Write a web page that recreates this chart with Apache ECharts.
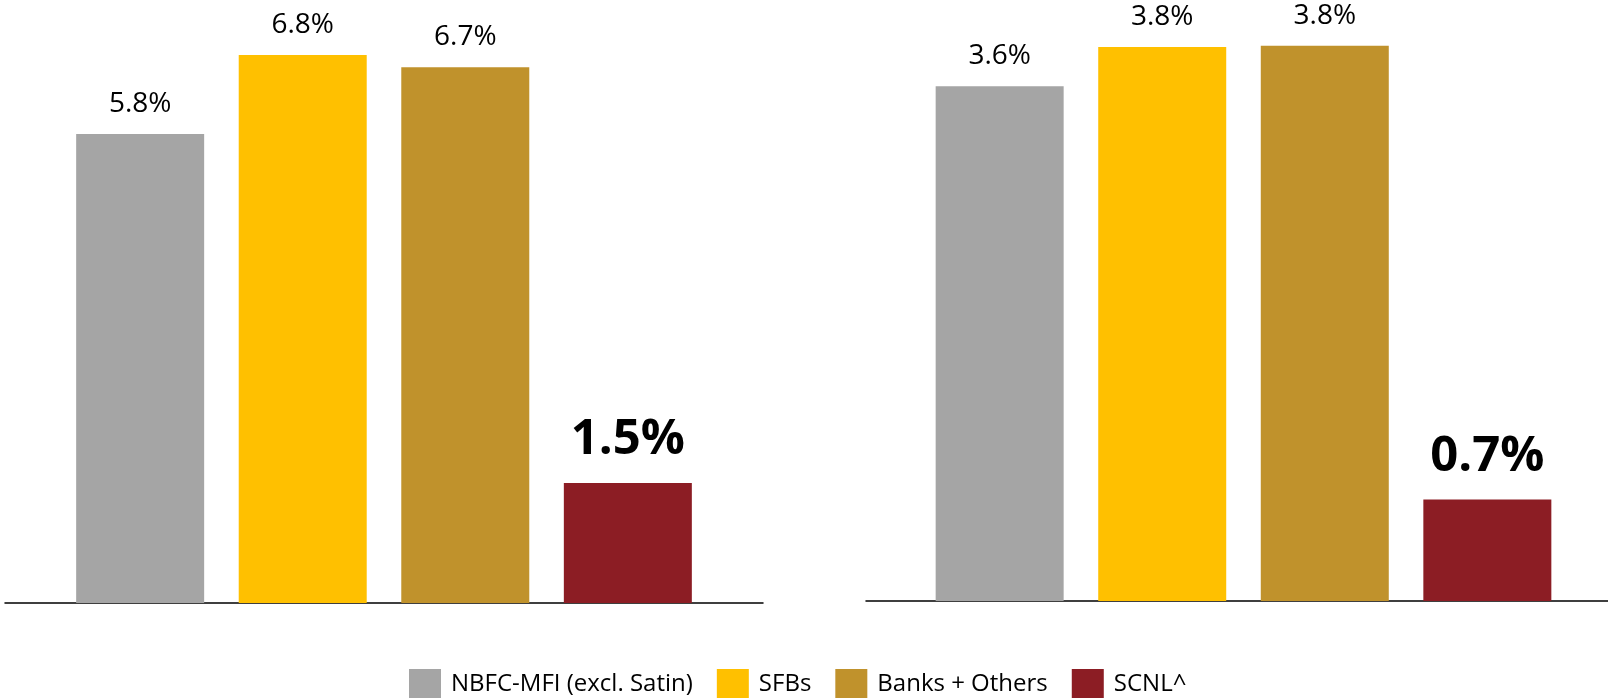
<!DOCTYPE html>
<html>
<head>
<meta charset="utf-8">
<script src="https://cdn.jsdelivr.net/npm/echarts@6/dist/echarts.min.js"></script>
<style>
html,body{margin:0;padding:0;background:#fff;}
#chart{width:1608px;height:698px;}
</style>
</head>
<body>
<div id="chart"></div>
<script>
const seriesNames = ['NBFC-MFI (excl. Satin)', 'SFBs', 'Banks + Others', 'SCNL^'];
const seriesColors = ['#A5A5A5', '#FFC000', '#C0922C', '#8C1D24'];
const leftValues = [5.82, 6.80, 6.65, 1.49];
const leftLabels = ['5.8%', '6.8%', '6.7%', '1.5%'];
const rightValues = [3.55, 3.82, 3.83, 0.70];
const rightLabels = ['3.6%', '3.8%', '3.8%', '0.7%'];
const leftCategory = [''];
const rightCategory = [''];

const FONT = '"Open Sans", "Noto Sans", sans-serif';

function makeSeries(values, labels, idx) {
  return values.map((v, i) => {
    const highlight = i === values.length - 1;
    return {
      name: seriesNames[i],
      type: 'bar',
      xAxisIndex: idx,
      yAxisIndex: idx,
      barWidth: 128,
      barGap: '27%',
      itemStyle: { color: seriesColors[i] },
      data: [v],
      label: {
        show: true,
        position: 'top',
        distance: highlight ? 18 : 16,
        color: '#000',
        fontFamily: FONT,
        fontSize: highlight ? 49 : 28,
        fontWeight: highlight ? 'bold' : 'normal',
        formatter: () => labels[i]
      }
    };
  });
}

const chart = echarts.init(document.getElementById('chart'));
chart.setOption({
  animation: false,
  backgroundColor: '#fff',
  grid: [
    { left: 5, width: 758, top: 39, bottom: 95, outerBoundsMode: 'none', containLabel: false },
    { left: 866, width: 755, top: 21, bottom: 97, outerBoundsMode: 'none', containLabel: false }
  ],
  legend: {
    data: seriesNames,
    left: 404,
    top: 664,
    itemWidth: 32,
    itemHeight: 30,
    itemGap: 24,
    icon: 'rect',
    textStyle: { fontFamily: FONT, fontSize: 24, color: '#000', padding: [0, 0, 0, 5] }
  },
  xAxis: [
    { type: 'category', gridIndex: 0, data: leftCategory,
      axisLine: { show: true, lineStyle: { color: '#000', width: 1.5 } },
      axisTick: { show: false }, axisLabel: { show: false } },
    { type: 'category', gridIndex: 1, data: rightCategory,
      axisLine: { show: true, lineStyle: { color: '#000', width: 1.5 } },
      axisTick: { show: false }, axisLabel: { show: false } }
  ],
  yAxis: [
    { type: 'value', gridIndex: 0, min: 0, max: 7, show: false, splitLine: { show: false } },
    { type: 'value', gridIndex: 1, min: 0, max: 4, show: false, splitLine: { show: false } }
  ],
  series: [].concat(makeSeries(leftValues, leftLabels, 0), makeSeries(rightValues, rightLabels, 1))
});
</script>
</body>
</html>
